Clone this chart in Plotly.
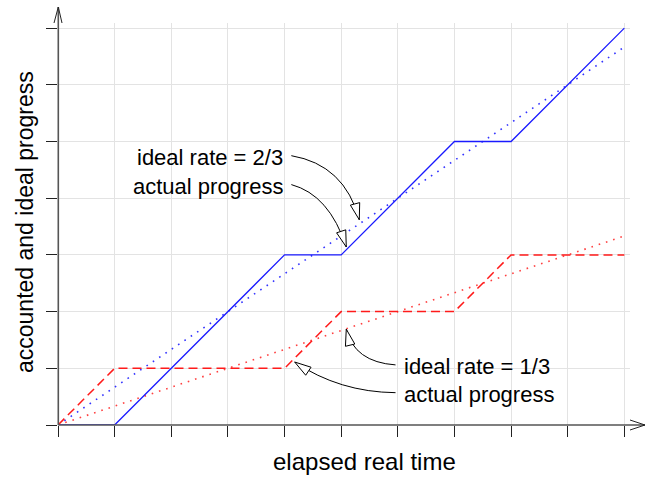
import plotly.graph_objects as go
import numpy as np

# ---- data ----
time_ticks = list(range(0, 11))
progress_ticks = list(range(0, 8))

fast_x = [0, 1, 4, 5, 7, 8, 10]
fast_actual = [0, 0, 3, 3, 5, 5, 7]
fast_ideal_x = [0, 10]
fast_ideal = [0, 20 / 3]

slow_x = [0, 1, 4, 5, 7, 8, 10]
slow_actual = [0, 1, 1, 2, 2, 3, 3]
slow_ideal_x = [0, 10]
slow_ideal = [0, 10 / 3]

# annotation texts and arrows (data coords): start, control, tip
labels_fast = ["ideal rate = 2/3", "actual progress"]
labels_fast_pos = [(4.0, 4.71), (4.0, 4.20)]
labels_slow = ["ideal rate = 1/3", "actual progress"]
labels_slow_pos = [(6.08, 1.03), (6.08, 0.54)]
arrows = [
    ((4.12, 4.75), (5.06, 4.59), (5.32, 3.62)),
    ((4.12, 4.24), (4.79, 4.06), (5.09, 3.14)),
    ((5.96, 1.06), (5.23, 1.11), (5.09, 1.69)),
    ((5.96, 0.57), (4.97, 0.58), (4.18, 1.11)),
]

W, H = 656, 477
L, R, T, B = 58, 26, 23, 52
XR = [0, 10.1]
YR = [0, 7.09]
pw, ph = W - L - R, H - T - B


def px2paper(px, py):
    return (px - L) / pw, (H - B - py) / ph


fig = go.Figure()
fig.add_trace(go.Scatter(x=fast_ideal_x, y=fast_ideal, mode="lines",
                         line=dict(color="#3333ff", width=1.6, dash="1.6px,6px"),
                         hoverinfo="skip"))
fig.add_trace(go.Scatter(x=slow_ideal_x, y=slow_ideal, mode="lines",
                         line=dict(color="#ff4040", width=1.6, dash="1.6px,6px"),
                         hoverinfo="skip"))
fig.add_trace(go.Scatter(x=fast_x, y=fast_actual, mode="lines",
                         line=dict(color="#1a1aff", width=1.3),
                         hoverinfo="skip"))
fig.add_trace(go.Scatter(x=slow_x, y=slow_actual, mode="lines",
                         line=dict(color="#ff1a1a", width=1.5, dash="9px,5px"),
                         hoverinfo="skip"))

shapes = []
# curved arrows
for (s, c, t) in arrows:
    shapes.append(dict(type="path", xref="x", yref="y",
                       path=f"M {s[0]},{s[1]} Q {c[0]},{c[1]} {t[0]},{t[1]}",
                       line=dict(color="black", width=1)))
    d = np.array(t) - np.array(c)
    d = d / np.linalg.norm(d)
    n = np.array([-d[1], d[0]])
    Lh, Wh = 0.29, 0.085
    base = np.array(t) - d * Lh
    p1 = base + n * Wh
    p2 = base - n * Wh
    shapes.append(dict(type="path", xref="x", yref="y",
                       path=f"M {t[0]},{t[1]} L {p1[0]},{p1[1]} L {p2[0]},{p2[1]} Z",
                       fillcolor="white", line=dict(color="black", width=1)))

# axis lines with arrows (paper coordinates)
ax_col = "#555555"
x0, y0 = px2paper(58.3, 425)
xt, yt = px2paper(58.3, 7)
shapes.append(dict(type="line", xref="paper", yref="paper", x0=x0, y0=y0, x1=xt, y1=yt,
                   line=dict(color=ax_col, width=1.6)))
a1 = px2paper(54, 23)
a2 = px2paper(62, 23)
shapes.append(dict(type="path", xref="paper", yref="paper",
                   path=f"M {a1[0]},{a1[1]} L {xt},{yt} L {a2[0]},{a2[1]}",
                   line=dict(color="#222222", width=1)))
xe, ye = px2paper(645, 425)
shapes.append(dict(type="line", xref="paper", yref="paper", x0=x0, y0=y0, x1=xe, y1=ye,
                   line=dict(color=ax_col, width=1.6)))
b1 = px2paper(630, 420)
b2 = px2paper(630, 430)
shapes.append(dict(type="path", xref="paper", yref="paper",
                   path=f"M {b1[0]},{b1[1]} L {xe},{ye} L {b2[0]},{b2[1]}",
                   line=dict(color="#222222", width=1)))

annotations = []
font = dict(family="Liberation Sans, Arial, sans-serif", size=22, color="black")
for txt, (x, y) in zip(labels_fast, labels_fast_pos):
    annotations.append(dict(x=x, y=y, xref="x", yref="y", text=txt, showarrow=False,
                            xanchor="right", yanchor="middle", font=font))
for txt, (x, y) in zip(labels_slow, labels_slow_pos):
    annotations.append(dict(x=x, y=y, xref="x", yref="y", text=txt, showarrow=False,
                            xanchor="left", yanchor="middle", font=font))
xfont = dict(family="Liberation Sans, Arial, sans-serif", size=24, color="black")
yfont = dict(family="Liberation Sans, Arial, sans-serif", size=23, color="black")
xtx, xty = px2paper(364, 461)
annotations.append(dict(x=xtx, y=xty, xref="paper", yref="paper", text="elapsed real time",
                        showarrow=False, xanchor="center", yanchor="middle", font=xfont))
ytx, yty = px2paper(25, 222)
annotations.append(dict(x=ytx, y=yty, xref="paper", yref="paper",
                        text="accounted and ideal progress", textangle=-90,
                        showarrow=False, xanchor="center", yanchor="middle", font=yfont))

fig.update_layout(
    width=W, height=H,
    margin=dict(l=L, r=R, t=T, b=B, pad=0),
    plot_bgcolor="white", paper_bgcolor="white",
    showlegend=False,
    shapes=shapes, annotations=annotations,
    xaxis=dict(range=XR, tickvals=time_ticks, showticklabels=False,
               ticks="outside", ticklen=11, tickcolor="#222222", tickwidth=1,
               showgrid=True, gridcolor="#e3e3e3", gridwidth=1,
               zeroline=False, showline=False, fixedrange=True),
    yaxis=dict(range=YR, tickvals=progress_ticks, showticklabels=False,
               ticks="outside", ticklen=11, tickcolor="#222222", tickwidth=1,
               showgrid=True, gridcolor="#e3e3e3", gridwidth=1,
               zeroline=False, showline=False, fixedrange=True),
)

fig.write_html("out.html")
